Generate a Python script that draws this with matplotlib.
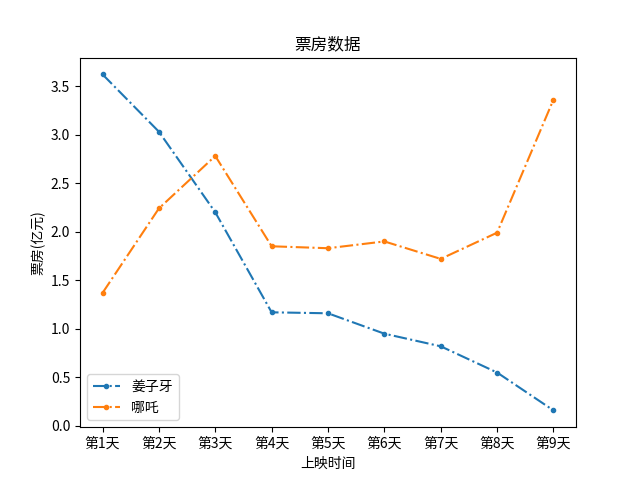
import matplotlib
matplotlib.use("Agg")
import matplotlib.pyplot as plt

plt.rcParams['font.family'] = ['Noto Sans CJK SC', 'DejaVu Sans']
plt.rcParams['axes.unicode_minus'] = False

days = ["第1天", "第2天", "第3天", "第4天", "第5天", "第6天", "第7天", "第8天", "第9天"]
jiangziya = [3.62, 3.03, 2.20, 1.17, 1.16, 0.95, 0.82, 0.55, 0.16]
nezha = [1.37, 2.24, 2.78, 1.85, 1.83, 1.90, 1.72, 1.99, 3.36]

fig = plt.figure(figsize=(6.4, 4.8), dpi=100)
plt.plot(days, jiangziya, marker=".", linestyle="-.", label="姜子牙")
plt.plot(days, nezha, marker=".", linestyle="-.", label="哪吒")
plt.title("票房数据")
plt.xlabel("上映时间")
plt.ylabel("票房(亿元)")
plt.legend(loc="lower left")
plt.savefig("out.png", dpi=100)
